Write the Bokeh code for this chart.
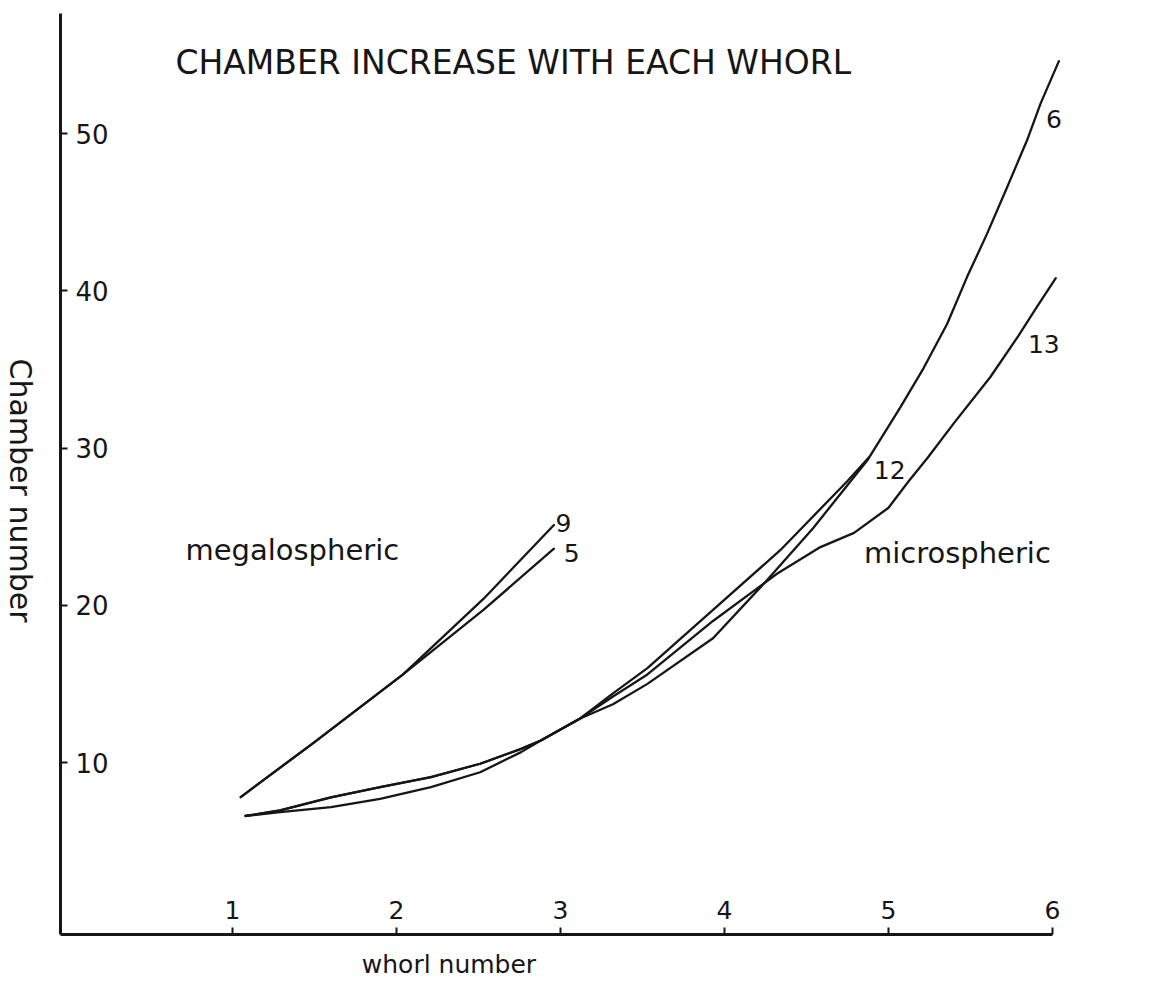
import math
from bokeh.plotting import figure
from bokeh.models import Range1d, Label, ColumnDataSource, FixedTicker, LinearAxis
from bokeh.core.properties import value
from bokeh.embed import file_html
from bokeh.resources import INLINE

# ---- data ----
x_ticks = [1, 2, 3, 4, 5, 6]
y_ticks = [10, 20, 30, 40, 50]

# megalospheric
x_m9 = [1.05, 1.50, 2.04, 2.53, 2.96]
y_m9 = [7.8, 11.3, 15.6, 20.4, 25.1]
x_m5 = [1.05, 1.50, 2.04, 2.53, 2.96]
y_m5 = [7.8, 11.3, 15.6, 19.7, 23.6]

# microspheric
x_u12 = [1.08, 1.29, 1.60, 1.90, 2.21, 2.51, 2.76, 2.88, 3.12, 3.32, 3.53, 3.93, 4.34, 4.75, 4.88]
y_u12 = [6.6, 6.95, 7.78, 8.43, 9.07, 9.92, 10.87, 11.4, 12.8, 14.4, 16.0, 19.7, 23.5, 27.9, 29.4]

x_u13 = [1.08, 1.29, 1.60, 1.90, 2.21, 2.51, 2.76, 2.88, 3.12, 3.32, 3.53, 3.93, 4.32, 4.585, 4.79,
         5.00, 5.124, 5.24, 5.40, 5.62, 5.79, 5.90, 6.02]
y_u13 = [6.6, 6.95, 7.78, 8.43, 9.07, 9.92, 10.87, 11.4, 12.8, 14.2, 15.6, 19.0, 22.0, 23.7, 24.6,
         26.2, 27.9, 29.4, 31.6, 34.5, 37.1, 38.9, 40.8]

x_u6 = [1.08, 1.29, 1.60, 1.90, 2.21, 2.51, 2.76, 2.88, 3.12, 3.32, 3.53, 3.93, 4.26, 4.54, 4.87,
        5.073, 5.215, 5.358, 5.48, 5.60, 5.724, 5.846, 5.927, 6.039]
y_u6 = [6.6, 6.84, 7.16, 7.69, 8.43, 9.38, 10.66, 11.4, 12.8, 13.7, 15.0, 17.9, 21.6, 24.9, 29.2,
        32.6, 35.1, 37.9, 40.9, 43.6, 46.6, 49.6, 51.9, 54.6]

curve_labels = ["9", "5", "12", "13", "6"]
curve_label_x = [2.97, 3.02, 4.91, 5.85, 5.96]
curve_label_y = [25.2, 23.35, 28.6, 36.6, 50.95]

group_labels = ["megalospheric", "microspheric"]
group_label_x = [0.713, 4.85]
group_label_y = [23.5, 23.3]

title_text = "CHAMBER INCREASE WITH EACH WHORL"
x_title = "whorl number"
y_title = "Chamber number"

INK = "#161616"
FONT = "DejaVu Sans"

W, H = 1150, 980
# frame fills the whole canvas; axes are placed at fixed data locations
X0, X1 = -68 / 164, (W - 68) / 164
Y0, Y1 = (919.25 - H) / 15.725, 919.25 / 15.725
AX_X = -0.0488   # data x of the vertical axis line
AX_Y = -0.938    # data y of the horizontal axis line

p = figure(width=W, height=H, output_backend="svg", toolbar_location=None,
           x_range=Range1d(X0, X1), y_range=Range1d(Y0, Y1),
           x_axis_location=None, y_axis_location=None,
           min_border=0, min_border_left=0, min_border_right=0,
           min_border_top=0, min_border_bottom=0)
p.grid.visible = False
p.outline_line_color = None
p.background_fill_color = "white"
p.border_fill_color = "white"

xaxis = LinearAxis(fixed_location=AX_Y, bounds=(AX_X, 6.0), ticker=FixedTicker(ticks=x_ticks))
yaxis = LinearAxis(fixed_location=AX_X, bounds=(AX_Y, 57.63), ticker=FixedTicker(ticks=y_ticks))
for ax, standoff, fs in ((xaxis, -34, "25px"), (yaxis, -48, "26px")):
    ax.axis_line_width = 3
    ax.axis_line_color = INK
    ax.major_tick_in = 7
    ax.major_tick_out = 0
    ax.major_tick_line_width = 2
    ax.major_tick_line_color = INK
    ax.minor_tick_line_color = None
    ax.major_label_standoff = standoff
    ax.major_label_text_font = FONT
    ax.major_label_text_font_size = fs
    ax.major_label_text_color = INK
p.add_layout(xaxis, "below")
p.add_layout(yaxis, "left")

lw = 2.3
for xs, ys in ((x_m9, y_m9), (x_m5, y_m5), (x_u12, y_u12), (x_u13, y_u13), (x_u6, y_u6)):
    p.line(xs, ys, line_width=lw, line_color=INK, line_join="round", line_cap="round")

src_c = ColumnDataSource(dict(x=curve_label_x, y=curve_label_y, t=curve_labels))
p.text(x="x", y="y", text="t", source=src_c, text_font=value(FONT), text_font_size="25px",
       text_color=INK, text_align="left", text_baseline="middle")

src_g = ColumnDataSource(dict(x=group_label_x, y=group_label_y, t=group_labels))
p.text(x="x", y="y", text="t", source=src_g, text_font=value(FONT), text_font_size="29px",
       text_color=INK, text_align="left", text_baseline="middle")

p.add_layout(Label(x=0.652, y=54.52, text=title_text, text_font=FONT, text_font_size="33px",
                   text_color=INK, text_align="left", text_baseline="middle"))
p.add_layout(Label(x=2.32, y=-2.85, text=x_title, text_font=FONT, text_font_size="25px",
                   text_color=INK, text_align="center", text_baseline="middle"))
p.add_layout(Label(x=-0.2927, y=27.3, text=y_title, text_font=FONT, text_font_size="30px",
                   text_color=INK, text_align="center", text_baseline="middle", angle=-math.pi / 2))

open("out.html", "w").write(file_html(p, INLINE))
